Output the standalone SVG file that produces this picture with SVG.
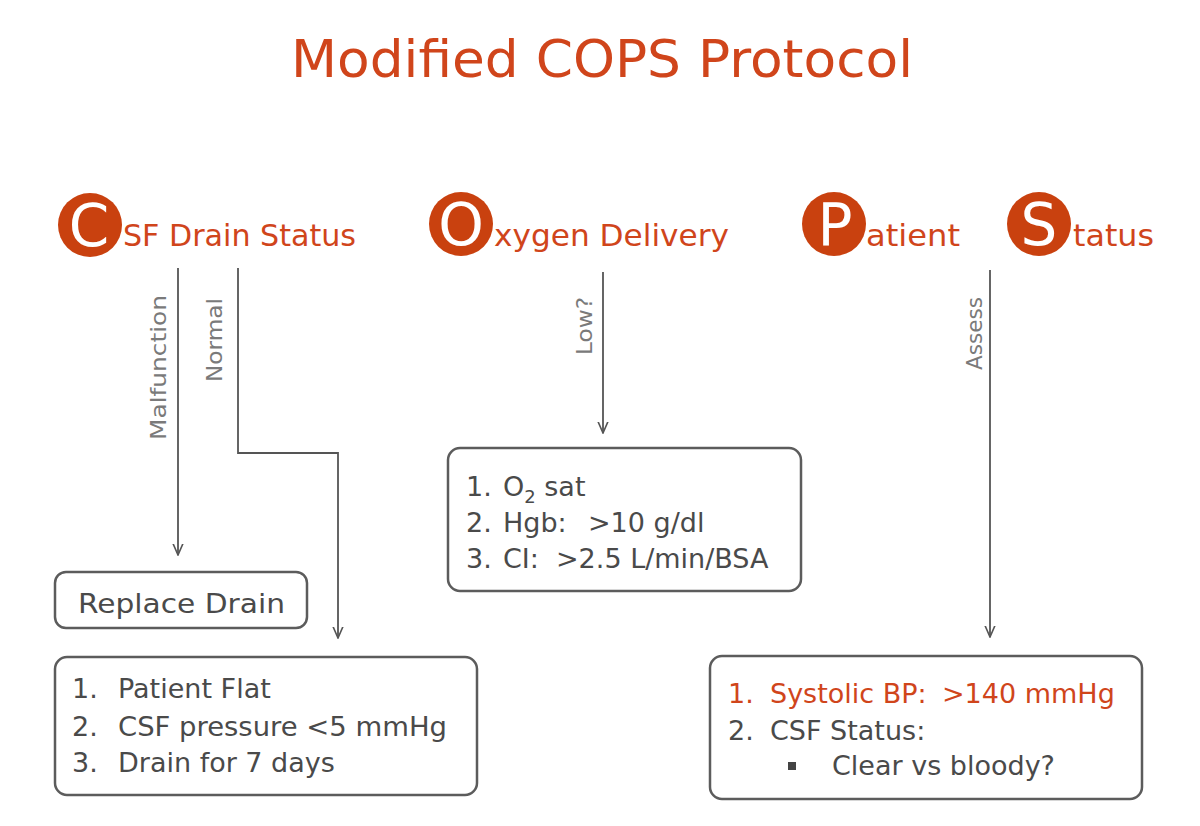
<svg xmlns="http://www.w3.org/2000/svg" width="1200" height="826" viewBox="0 0 1200 826">
<defs>
<marker id="arr" viewBox="0 0 12 12" refX="11.5" refY="6" markerWidth="12" markerHeight="12" markerUnits="userSpaceOnUse" orient="auto">
<path d="M0,1 L11.5,6 L0,11" fill="none" stroke="#555" stroke-width="1.6"/>
</marker>
<style>
text{font-family:"DejaVu Sans","Liberation Sans",sans-serif;}
.title{fill:#D0451B;font-size:52px;}
.hd{fill:#D0451B;font-size:31px;}
.circ{fill:#C9410F;}
.cl{fill:#fff;font-size:58px;text-anchor:middle;}
.box{fill:#fff;stroke:#5c5c5c;stroke-width:2.5;}
.bt{fill:#4a4a4a;font-size:27px;}
.red{fill:#D0451B;}
.lbl{fill:#7a7a7a;font-size:21px;text-anchor:end;}
.con{fill:none;stroke:#555;stroke-width:1.8;marker-end:url(#arr);}
</style>
</defs>
<rect width="1200" height="826" fill="#fff"/>
<text class="title" x="291" y="77" textLength="622" lengthAdjust="spacingAndGlyphs">Modified COPS Protocol</text>

<g id="csf">
<circle class="circ" cx="90" cy="225" r="32"/>
<text class="cl" x="89" y="246">C</text>
<text class="hd" x="123" y="246" textLength="233" lengthAdjust="spacingAndGlyphs">SF Drain Status</text>
</g>
<g id="oxygen">
<circle class="circ" cx="461" cy="224" r="32"/>
<text class="cl" x="461" y="245">O</text>
<text class="hd" x="494" y="246" textLength="235" lengthAdjust="spacingAndGlyphs">xygen Delivery</text>
</g>
<g id="patient">
<circle class="circ" cx="834" cy="224" r="32"/>
<text class="cl" x="835" y="245">P</text>
<text class="hd" x="866" y="246" textLength="94" lengthAdjust="spacingAndGlyphs">atient</text>
</g>
<g id="status">
<circle class="circ" cx="1039" cy="224" r="32"/>
<text class="cl" x="1039" y="245">S</text>
<text class="hd" x="1073" y="246" textLength="81" lengthAdjust="spacingAndGlyphs">tatus</text>
</g>

<g id="connectors">
<line class="con" x1="178" y1="268" x2="178" y2="555"/>
<path class="con" d="M238,268 V453 H338 V638"/>
<line class="con" x1="603" y1="272" x2="603" y2="433"/>
<line class="con" x1="990" y1="270" x2="990" y2="637"/>
<text class="lbl" transform="translate(166,295) rotate(-90)" textLength="145" lengthAdjust="spacingAndGlyphs">Malfunction</text>
<text class="lbl" transform="translate(222,298) rotate(-90)" textLength="84" lengthAdjust="spacingAndGlyphs">Normal</text>
<text class="lbl" transform="translate(592,297) rotate(-90)" textLength="58" lengthAdjust="spacingAndGlyphs">Low?</text>
<text class="lbl" transform="translate(982,297) rotate(-90)" textLength="73" lengthAdjust="spacingAndGlyphs">Assess</text>
</g>

<g id="replace">
<rect class="box" x="55" y="572" width="252" height="56" rx="11"/>
<text class="bt" x="78" y="613" textLength="207" lengthAdjust="spacingAndGlyphs">Replace Drain</text>
</g>

<g id="normal-box">
<rect class="box" x="55" y="657" width="422" height="138" rx="12"/>
<text class="bt" x="72" y="698">1.</text>
<text class="bt" x="118" y="698">Patient Flat</text>
<text class="bt" x="72" y="736">2.</text>
<text class="bt" x="118" y="736" textLength="329" lengthAdjust="spacingAndGlyphs">CSF pressure &lt;5 mmHg</text>
<text class="bt" x="72" y="772">3.</text>
<text class="bt" x="118" y="772">Drain for 7 days</text>
</g>

<g id="oxygen-box">
<rect class="box" x="448" y="448" width="353" height="143" rx="12"/>
<text class="bt" x="466" y="496">1.</text>
<text class="bt" x="503" y="496">O<tspan font-size="18" dy="7">2</tspan><tspan dy="-7"> sat</tspan></text>
<text class="bt" x="466" y="532">2.</text>
<text class="bt" x="503" y="532">Hgb:<tspan x="588">&gt;10 g/dl</tspan></text>
<text class="bt" x="466" y="568">3.</text>
<text class="bt" x="503" y="568">CI:<tspan x="556">&gt;2.5 L/min/BSA</tspan></text>
</g>

<g id="patient-box">
<rect class="box" x="710" y="656" width="432" height="143" rx="12"/>
<text class="bt red" x="728" y="703">1.</text>
<text class="bt red" x="770" y="703">Systolic BP:<tspan x="942">&gt;140 mmHg</tspan></text>
<text class="bt" x="728" y="740">2.</text>
<text class="bt" x="770" y="740">CSF Status:</text>
<rect x="788" y="762" width="8" height="8" fill="#444"/>
<text class="bt" x="832" y="775">Clear vs bloody?</text>
</g>
</svg>
